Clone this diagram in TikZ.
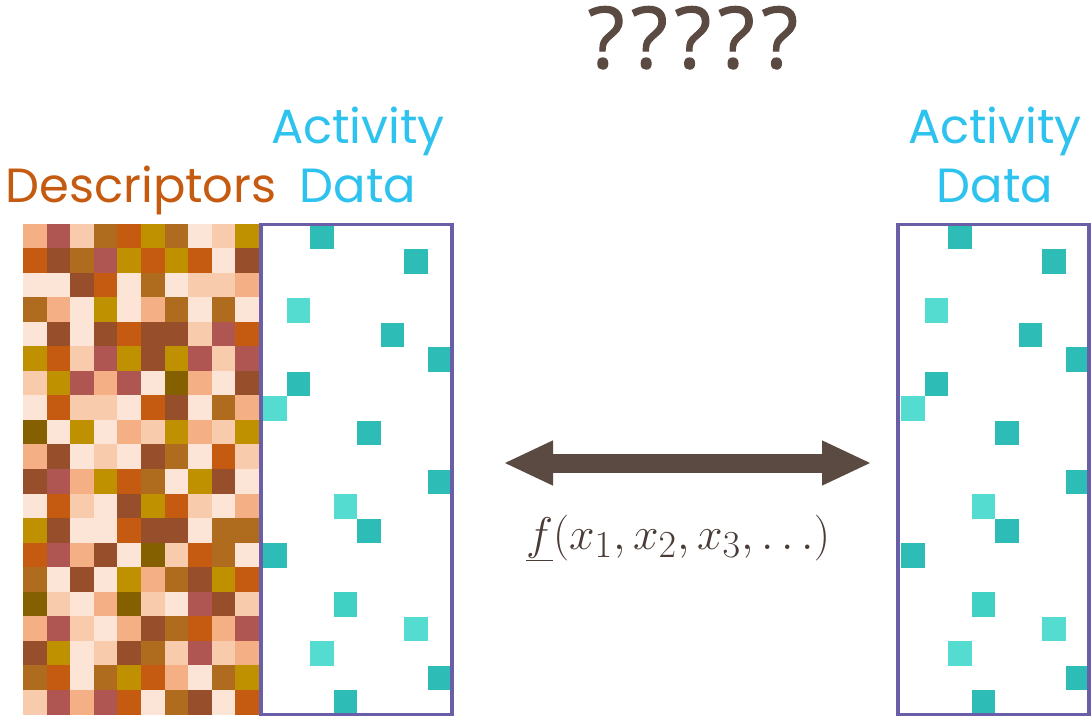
\documentclass[tikz,border=0pt]{standalone}
\usepackage{fontspec}
\usepackage{tikz}
\usetikzlibrary{positioning,arrows.meta}
\newfontfamily\lblfont{Poppins}
\newfontfamily\qmfont[LetterSpace=8,FakeBold=1.2]{Open Sans}
% descriptor palette
\definecolor{dsc-a}{HTML}{FCE4D6}
\definecolor{dsc-b}{HTML}{F8CBAD}
\definecolor{dsc-c}{HTML}{F4B084}
\definecolor{dsc-d}{HTML}{AF5652}
\definecolor{dsc-e}{HTML}{C55A11}
\definecolor{dsc-f}{HTML}{BF9000}
\definecolor{dsc-g}{HTML}{B06C1E}
\definecolor{dsc-h}{HTML}{974F2B}
\definecolor{dsc-k}{HTML}{846000}
% activity palette
\definecolor{act-D}{HTML}{2EBDB6}
\definecolor{act-M}{HTML}{40D0C4}
\definecolor{act-L}{HTML}{55DCD0}
\definecolor{boxpurple}{HTML}{6A5EA8}
\definecolor{actcyan}{HTML}{2DC3EE}
\definecolor{dscorange}{HTML}{C55A11}
\definecolor{darkbrown}{HTML}{5B4A42}

% sparse activity pattern, #1 = left edge of the cells
\newcommand{\actcells}[1]{%
  \foreach \r/\c/\s in {0/2/D,1/6/D,3/1/L,4/5/D,5/7/D,6/1/D,7/0/L,8/4/D,10/7/D,
                        11/3/L,12/4/D,13/0/D,15/3/M,16/6/L,17/2/L,18/7/D,19/3/D}
    \fill[act-\s] ({#1+23.5*\c},{224.5+24.5*\r}) rectangle ++(23.5,24.5);%
}

\begin{document}
\begin{tikzpicture}[x=0.75pt, y=-0.75pt,
    abox/.style={draw=boxpurple, line width=2.4pt, minimum width=143.25pt,
                 minimum height=367.5pt, inner sep=0pt},
    albl/.style={font=\lblfont\fontsize{36}{40}\selectfont, text=actcyan,
                 inner sep=0pt, anchor=base},
    arr/.style={{Triangle[length=36pt,width=34pt,line width=0pt]}-{Triangle[length=36pt,width=34pt,line width=0pt]},
                line width=14.25pt, draw=darkbrown}
]
\useasboundingbox (0,0) rectangle (1091,717);

% descriptor matrix
\foreach \rowlist [count=\r from 0] in {
    {c,d,b,g,e,f,g,a,b,f},{e,h,g,d,f,e,f,e,a,h},{a,a,h,e,a,g,a,b,b,c},
    {g,c,a,f,a,c,g,a,g,a},{a,h,a,h,e,h,h,b,d,e},{f,e,b,d,f,h,f,d,b,d},
    {b,f,d,c,d,a,k,c,a,h},{a,e,b,b,a,e,h,a,g,c},{k,a,f,a,c,b,f,c,b,f},
    {c,h,a,b,a,h,g,a,e,b},{h,d,c,f,e,g,a,f,h,a},{a,e,b,a,h,f,e,b,a,c},
    {f,h,a,a,e,h,h,a,g,g},{e,d,c,h,a,k,b,e,g,a},{g,a,h,a,f,c,g,h,f,e},
    {k,b,a,c,k,b,a,d,h,b},{c,d,b,a,c,h,g,e,c,d},{h,f,a,b,h,g,b,d,b,c},
    {g,e,a,g,f,e,c,a,g,f},{b,d,c,d,e,a,g,h,a,e}}
  \foreach \cc [count=\c from 0] in \rowlist
    \fill[dsc-\cc] ({23+23.6*\c},{223.5+24.55*\r}) rectangle ++(23.7,24.65);

% activity data
\actcells{263}
\actcells{901}
\node[abox] (actL) at (356.5,469.5) {};
\node[abox] (actR) at (993.5,469.5) {};

% labels
\node[albl] (actLtop) at (358,143) {Activity};
\node[albl] (actLbot) at (358,202) {Data};
\node[albl, text=dscorange] (desc) at (141,202) {Descriptors};
\node[albl] (actRtop) at (995,143) {Activity};
\node[albl] (actRbot) at (995,202) {Data};

\node[font=\qmfont\fontsize{64}{70}\selectfont, text=darkbrown, inner sep=0pt,
      anchor=base] (quest) at (693,68) {?????};

% mapping
\coordinate (arrL) at (505,463);
\coordinate (arrR) at (870,463);
\draw[arr] (arrL) -- (arrR);
\node[font=\fontsize{24.88}{30}\selectfont, text=darkbrown!80!black, inner sep=0pt,
      scale=1.38, transform shape, anchor=base] (func) at (678,549)
      {$\underline{f}(x_1,x_2,x_3,\ldots)$};
\end{tikzpicture}
\end{document}
